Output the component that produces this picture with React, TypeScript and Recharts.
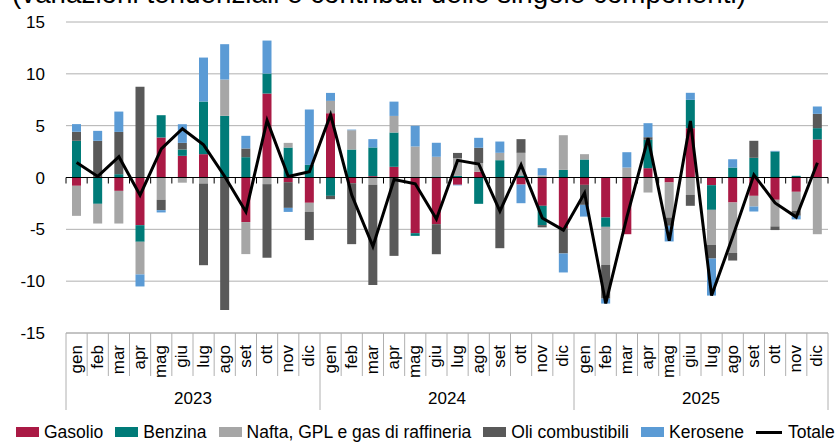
import React from "react";
import {
  ComposedChart,
  Bar,
  Line,
  XAxis,
  YAxis,
  CartesianGrid,
  ReferenceLine,
  Legend,
} from "recharts";

const MONTHS = ["gen", "feb", "mar", "apr", "mag", "giu", "lug", "ago", "set", "ott", "nov", "dic"];
const YEARS = ["2023", "2024", "2025"];
const Y_TICKS = [-15, -10, -5, 0, 5, 10, 15];

// contributi per componente, gen 2023 -> dic 2025
const gasolio = [
  -0.8, 0, -1.29, -4.6, 3.86, 2.09, 2.25, 0, -4.3, 8.1, -0.45, -2.44,
  6.2, -0.55, 0.13, 1.03, -5.37, -4.5, -0.7, 0.55, 0, -0.68, -2.73, -4.89,
  -0.71, -3.86, -5.47, 0.9, -0.48, 4.76, -0.74, -2.41, -1.77, -2.15, -1.38, 3.67,
];
const benzina = [
  3.54, -2.54, 0.32, -1.6, 2.15, 0.61, 5.08, 5.95, 1.96, 1.93, 2.89, 1.22,
  -1.77, 2.7, 2.77, 3.31, -0.26, 0.1, 0.16, -2.54, 1.67, 0.19, -1.86, 0.74,
  1.74, -0.9, 0, 2.73, 0, 2.73, -2.38, 0.96, 1.9, 2.51, 0.16, 1.09,
];
const nafta = [
  -2.9, -1.9, -3.15, -3.15, -2.15, -0.5, -0.58, 3.5, -3.09, -0.64, 0.45, -0.87,
  1.19, 1.86, -0.7, 1.6, 2.99, 1.9, 1.7, 0.84, 0.71, 2.19, 0.2, 3.34,
  0.51, -3.67, 0.96, -1.45, -3.38, -1.67, -3.38, -4.86, -1.03, -2.57, -1.83, -5.47,
];
const oli = [
  0.87, 3.54, 4.08, 8.75, -1.0, 0.64, -7.88, -12.77, 0.84, -7.1, -2.48, -2.73,
  -0.32, -5.88, -9.68, -7.56, 0, -2.9, 0.51, 1.48, -6.82, 1.32, -0.22, -2.44,
  -1.93, -3.25, 0, 0.26, -0.8, -1.06, -1.32, -0.74, 1.64, -0.35, -0.48, 1.38,
];
const kerosene = [
  0.74, 0.96, 1.96, -1.16, -0.22, 1.8, 4.24, 3.41, 1.22, 3.18, -0.39, 5.34,
  0.77, 0.06, 0.8, 1.38, 2.0, 1.35, -0.06, 0.96, 1.09, -1.8, 0.7, -1.83,
  -1.13, -0.48, 1.48, 1.35, -1.51, 0.68, -3.57, 0.8, -0.48, 0.06, -0.35, 0.71,
];
const totale = [
  1.45, 0.1, 2.0, -1.7, 2.75, 4.7, 3.15, 0.1, -3.3, 5.5, 0.1, 0.55,
  6.05, -1.7, -6.65, -0.2, -0.6, -4.0, 1.65, 1.3, -3.25, 1.22, -3.9, -5.08,
  -1.5, -12.15, -3.8, 3.8, -6.1, 5.45, -11.38, -5.7, 0.26, -2.45, -3.82, 1.42,
];

const SERIES = [
  { key: "Gasolio", color: "#AA1A45" },
  { key: "Benzina", color: "#007B78" },
  { key: "Nafta, GPL e gas di raffineria", color: "#A6A6A6" },
  { key: "Oli combustibili", color: "#595959" },
  { key: "Kerosene", color: "#5B9BD5" },
];

const data = YEARS.flatMap((year, yi) =>
  MONTHS.map((month, mi) => {
    const i = yi * 12 + mi;
    return {
      id: `${month} ${year}`,
      month,
      year,
      Gasolio: gasolio[i],
      Benzina: benzina[i],
      "Nafta, GPL e gas di raffineria": nafta[i],
      "Oli combustibili": oli[i],
      Kerosene: kerosene[i],
      Totale: totale[i],
    };
  })
);

// layout
const W = 835;
const H = 442;
const TOP = 22;
const YAXIS_W = 66;
const RIGHT = 7;
const LEGEND_H = 26;
const XAXIS_H = 83;
const PLOT_W = W - YAXIS_W - RIGHT;
const PLOT_H = H - TOP - LEGEND_H - XAXIS_H;
const GRID = "#b0b0b0";
const FONT = "'Liberation Sans', Arial, sans-serif";

function MonthTick(props: any) {
  const { x, y, index } = props;
  const band = PLOT_W / data.length;
  const left = x - band / 2;
  const zeroY = y - PLOT_H / 2;
  const d = data[index];
  const last = index === data.length - 1;
  return (
    <g>
      <line x1={left} x2={left} y1={zeroY} y2={zeroY + 6} stroke="#000" />
      <line x1={left} x2={left} y1={y} y2={y + (index % 12 === 0 ? 77 : 43)} stroke={GRID} />
      {last && (
        <>
          <line x1={left + band} x2={left + band} y1={zeroY} y2={zeroY + 6} stroke="#000" />
          <line x1={left + band} x2={left + band} y1={y} y2={y + 77} stroke={GRID} />
        </>
      )}
      <text
        transform={`translate(${x + 5},${y + 12}) rotate(-90)`}
        textAnchor="end"
        fontSize={17}
        fontFamily={FONT}
        fill="#000"
      >
        {d.month}
      </text>
      {index % 12 === 6 && (
        <text x={left} y={y + 71} textAnchor="middle" fontSize={17} fontFamily={FONT} fill="#000">
          {d.year}
        </text>
      )}
    </g>
  );
}

function LegendContent() {
  return (
    <div
      style={{
        height: LEGEND_H,
        display: "flex",
        alignItems: "center",
        paddingLeft: 16,
        paddingTop: 6,
        boxSizing: "border-box",
        fontFamily: FONT,
        fontSize: 17.5,
        color: "#000",
        whiteSpace: "nowrap",
      }}
    >
      {SERIES.map((s) => (
        <span key={s.key} style={{ display: "flex", alignItems: "center", marginRight: 12 }}>
          <span style={{ width: 23, height: 10, background: s.color, marginRight: 5 }} />
          {s.key}
        </span>
      ))}
      <span style={{ display: "flex", alignItems: "center" }}>
        <span style={{ width: 26, height: 3, background: "#000", marginRight: 6 }} />
        Totale
      </span>
    </div>
  );
}

export default function App() {
  return (
    <div style={{ position: "absolute", left: 0, top: 0, width: W, height: H, background: "#fff", overflow: "hidden" }}>
      <div
        style={{
          position: "absolute",
          left: 12,
          top: -20,
          fontFamily: FONT,
          fontSize: 27.8,
          lineHeight: "28px",
          whiteSpace: "nowrap",
          color: "#000",
        }}
      >
        (variazioni tendenziali e contributi delle singole componenti)
      </div>
      <ComposedChart
        width={W}
        height={H}
        data={data}
        stackOffset="sign"
        margin={{ top: TOP, right: RIGHT, left: 0, bottom: 0 }}
      >
        <CartesianGrid vertical={false} stroke={GRID} />
        <XAxis
          dataKey="id"
          interval={0}
          height={XAXIS_H}
          tickSize={0}
          tickMargin={0}
          tickLine={false}
          axisLine={{ stroke: GRID }}
          tick={<MonthTick />}
        />
        <YAxis
          width={YAXIS_W}
          domain={[-15, 15]}
          ticks={Y_TICKS}
          axisLine={false}
          tickLine={false}
          tickMargin={15}
          tick={{ fontSize: 17, fill: "#000", fontFamily: FONT }}
        />
        {SERIES.map((s) => (
          <Bar key={s.key} dataKey={s.key} stackId="a" fill={s.color} barSize={9} isAnimationActive={false} />
        ))}
        <ReferenceLine y={0} stroke="#000" strokeWidth={1.2} />
        <Line
          dataKey="Totale"
          type="linear"
          stroke="#000"
          strokeWidth={3}
          dot={false}
          isAnimationActive={false}
        />
        <Legend
          verticalAlign="bottom"
          height={LEGEND_H}
          wrapperStyle={{ left: 0, width: W }}
          content={<LegendContent />}
        />
      </ComposedChart>
    </div>
  );
}
